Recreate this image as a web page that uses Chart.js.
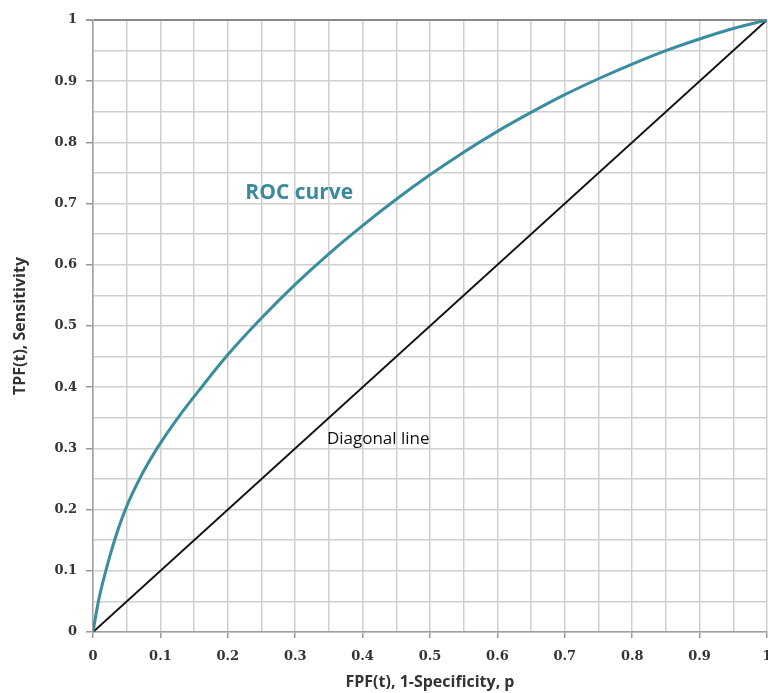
<!DOCTYPE html>
<html>
<head>
<meta charset="utf-8">
<script src="https://cdn.jsdelivr.net/npm/chart.js@4"></script>
<style>
  body { margin: 0; background: #fff; }
</style>
</head>
<body>
<canvas id="roc" width="768" height="693"></canvas>
<script>
// values
const fpf = [0, 0.008, 0.019, 0.032, 0.048, 0.069, 0.095, 0.126, 0.161, 0.2, 0.25, 0.3, 0.35, 0.4, 0.45, 0.5, 0.55, 0.6, 0.65, 0.7, 0.75, 0.8, 0.85, 0.9, 0.95, 1];
const tpf = [0, 0.05, 0.1, 0.15, 0.2, 0.25, 0.3, 0.35, 0.4, 0.453, 0.513, 0.568, 0.618, 0.664, 0.707, 0.747, 0.784, 0.818, 0.849, 0.878, 0.904, 0.928, 0.95, 0.969, 0.986, 1];
const diagX = [0, 1];
const diagY = [0, 1];
const tickLabels = ["0", "0.1", "0.2", "0.3", "0.4", "0.5", "0.6", "0.7", "0.8", "0.9", "1"];

// text placed on the plot (data coordinates)
const notes = [
    { text: "ROC curve", x: 0.226, y: 0.717, font: "bold 21px 'Open Sans'", color: "#3a8a9c" },
    { text: "Diagonal line", x: 0.347, y: 0.315, font: "17px 'Open Sans'", color: "#111" }
];

function isMajor(v) {
    return Math.abs(v * 10 - Math.round(v * 10)) < 1e-6;
}

function labelFor(v) {
    if (!isMajor(v)) return "";
    return tickLabels[Math.round(v * 10)];
}

const notesPlugin = {
    id: "notes",
    afterDatasetsDraw(chart) {
        const ctx = chart.ctx;
        const sx = chart.scales.x, sy = chart.scales.y;
        ctx.save();
        notes.forEach(n => {
            ctx.font = n.font;
            ctx.fillStyle = n.color;
            ctx.textAlign = "left";
            ctx.textBaseline = "middle";
            ctx.fillText(n.text, sx.getPixelForValue(n.x), sy.getPixelForValue(n.y));
        });
        ctx.restore();
    }
};

const tickFont = { family: "'DejaVu Serif'", size: 13, weight: "bold" };
const titleFont = { family: "'Open Sans'", size: 16, weight: "bold" };

new Chart(document.getElementById("roc"), {
    type: "line",
    data: {
        datasets: [
            {
                label: "ROC curve",
                data: fpf.map((x, i) => ({ x: x, y: tpf[i] })),
                borderColor: "#3a8c9f",
                borderWidth: 3,
                pointRadius: 0,
                cubicInterpolationMode: "monotone",
                fill: false
            },
            {
                label: "Diagonal line",
                data: diagX.map((x, i) => ({ x: x, y: diagY[i] })),
                borderColor: "#111",
                borderWidth: 2,
                pointRadius: 0,
                fill: false
            }
        ]
    },
    options: {
        responsive: false,
        animation: false,
        layout: { padding: { top: 20, right: 1, left: 0, bottom: 0 } },
        plugins: {
            legend: { display: false },
            tooltip: { enabled: false }
        },
        scales: {
            x: {
                type: "linear",
                min: 0,
                max: 1,
                afterFit(scale) {
                    scale.height = 61;
                    scale.paddingLeft = 0;
                    scale.paddingRight = 0;
                },
                ticks: {
                    stepSize: 0.05,
                    autoSkip: false,
                    maxRotation: 0,
                    padding: 11,
                    color: "#333",
                    font: tickFont,
                    callback: v => labelFor(v)
                },
                grid: {
                    color: "#cfcfcf",
                    lineWidth: 1.5,
                    tickLength: 6,
                    tickColor: c => isMajor(c.tick.value) ? "#999" : "rgba(0,0,0,0)"
                },
                border: { color: "#a0a0a0", width: 1.5 },
                title: {
                    display: true,
                    text: "FPF(t), 1-Specificity, p",
                    color: "#333",
                    font: titleFont,
                    padding: { top: 0, bottom: 1 }
                }
            },
            y: {
                type: "linear",
                min: 0,
                max: 1,
                afterFit(scale) {
                    scale.width = 93;
                    scale.paddingTop = 0;
                    scale.paddingBottom = 0;
                },
                ticks: {
                    stepSize: 0.05,
                    autoSkip: false,
                    padding: 9,
                    color: "#333",
                    font: tickFont,
                    callback: v => labelFor(v)
                },
                grid: {
                    color: c => c.tick && c.tick.value === 1 ? "#8a8a8a" : "#cfcfcf",
                    lineWidth: c => c.tick && c.tick.value === 1 ? 2 : 1.5,
                    tickLength: 7,
                    tickColor: c => isMajor(c.tick.value) ? "#999" : "rgba(0,0,0,0)"
                },
                border: { color: "#a0a0a0", width: 1.5 },
                title: {
                    display: true,
                    text: "TPF(t), Sensitivity",
                    color: "#333",
                    font: titleFont,
                    padding: { top: 11, bottom: 0 }
                }
            }
        }
    },
    plugins: [notesPlugin]
});
</script>
</body>
</html>
